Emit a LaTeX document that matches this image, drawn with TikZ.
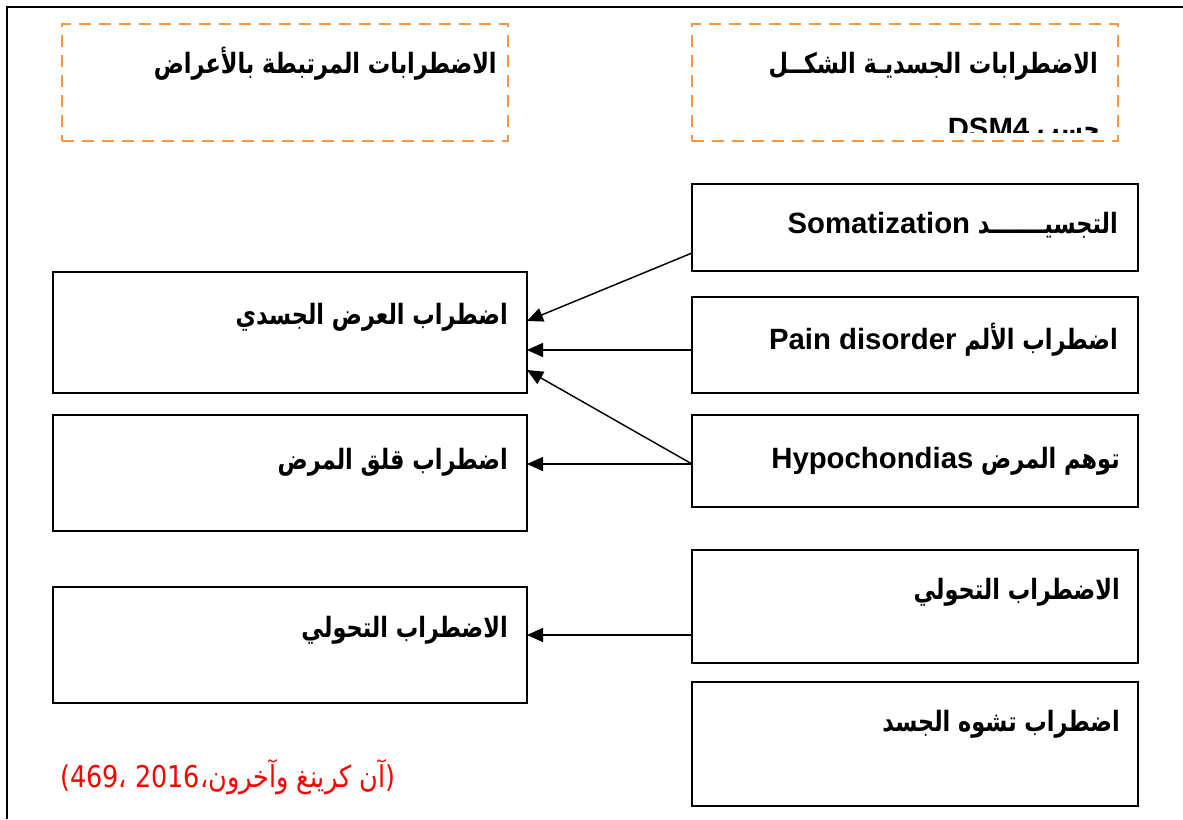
\documentclass[tikz,border=0pt]{standalone}
\usepackage{fontspec}
\setmainfont{Liberation Sans}
\newfontfamily\lat{Liberation Sans}
\newfontfamily\ar[Script=Arabic,FakeStretch=0.8]{DejaVu Sans}
\newfontfamily\arcite[Script=Arabic,FakeStretch=0.85]{DejaVu Sans}
\TeXXeTstate=1
\usetikzlibrary{arrows.meta,calc}
\definecolor{dashorange}{HTML}{F79646}
\newcommand\mkbox[6]{\node[#2, minimum width={(#5-#3)*0.75pt}, minimum height={(#6-#4)*0.75pt}] (#1) at ({(#3+#5)/2},{(#4+#6)/2}) {};}
\newcommand\latw[1]{\beginL{\lat\fontsize{22}{26}\selectfont #1}\endL}
\begin{document}
\begin{tikzpicture}[x=0.75pt,y=-0.75pt,
  box/.style={draw=black, line width=1.1pt, inner sep=0pt, outer sep=0pt, rectangle},
  hdr/.style={draw=dashorange, line width=2.2pt, dash pattern=on 9pt off 6pt, inner sep=0pt, outer sep=0pt, rectangle},
  lbl/.style={anchor=base east, inner sep=0pt, font=\fontsize{21}{25}\selectfont\bfseries},
  arr/.style={line width=1.1pt, -{Triangle[length=12pt,width=10.5pt]}},
  cite/.style={anchor=base west, inner sep=0pt, text=red, font=\arcite\fontsize{22.5}{26}\selectfont}]
\useasboundingbox (0,0) rectangle (1183,819);
% outer frame
\draw[line width=1.8pt] (7,819) -- (7,7) -- (1183,7);
% header boxes
\mkbox{hl}{hdr}{62}{24}{508}{141}
\mkbox{hr}{hdr}{692}{24}{1118}{141}
\node[lbl] (hlt) at (497,73) {\ar\beginR الاضطرابات المرتبطة بالأعراض\endR};
\node[lbl] (hrt) at (1098,73) {\ar\beginR الاضطرابات الجسديـة الشكــل\endR};
\begin{scope}
\clip (692,100) rectangle (1118,132);
\node[lbl] (hrt2) at (1100,138) {\ar\beginR حسب \latw{DSM4}\endR};
\end{scope}
% right boxes
\mkbox{r1}{box}{692}{184}{1138}{271}
\mkbox{r2}{box}{692}{297}{1138}{393}
\mkbox{r3}{box}{692}{415}{1138}{507}
\mkbox{r4}{box}{692}{550}{1138}{663}
\mkbox{r5}{box}{692}{682}{1138}{806}
% left boxes
\mkbox{l1}{box}{53}{272}{527}{393}
\mkbox{l2}{box}{53}{415}{527}{531}
\mkbox{l3}{box}{53}{587}{527}{703}
% labels
\node[lbl] (r1t) at (1118,233) {\ar\beginR التجسيـــــــد \latw{Somatization}\endR};
\node[lbl] (r2t) at (1118,349) {\ar\beginR اضطراب الألم \latw{Pain disorder}\endR};
\node[lbl] (r3t) at (1120,468) {\ar\beginR توهم المرض \latw{Hypochondias}\endR};
\node[lbl] (r4t) at (1120,599) {\ar\beginR الاضطراب التحولي\endR};
\node[lbl] (r5t) at (1120,731) {\ar\beginR اضطراب تشوه الجسد\endR};
\node[lbl] (l1t) at (508,324) {\ar\beginR اضطراب العرض الجسدي\endR};
\node[lbl] (l2t) at (508,469) {\ar\beginR اضطراب قلق المرض\endR};
\node[lbl] (l3t) at (508,637) {\ar\beginR الاضطراب التحولي\endR};
% arrows
\draw[arr] ($(r1.south west)+(0,-18)$) -- ($(l1.north east)+(0,49)$);
\draw[arr] ($(r2.north west)+(0,53)$) -- ($(l1.north east)+(0,78)$);
\draw[arr] ($(r3.north west)+(0,49)$) -- ($(l1.north east)+(0,98)$);
\draw[arr] ($(r3.north west)+(0,49)$) -- ($(l2.north east)+(0,49)$);
\draw[arr] ($(r4.north west)+(0,85)$) -- ($(l3.north east)+(0,48)$);
% citation
\node[cite] (cit) at (60,787) {\beginR (آن كرينغ وآخرون،2016 ،469)\endR};
\end{tikzpicture}
\end{document}
